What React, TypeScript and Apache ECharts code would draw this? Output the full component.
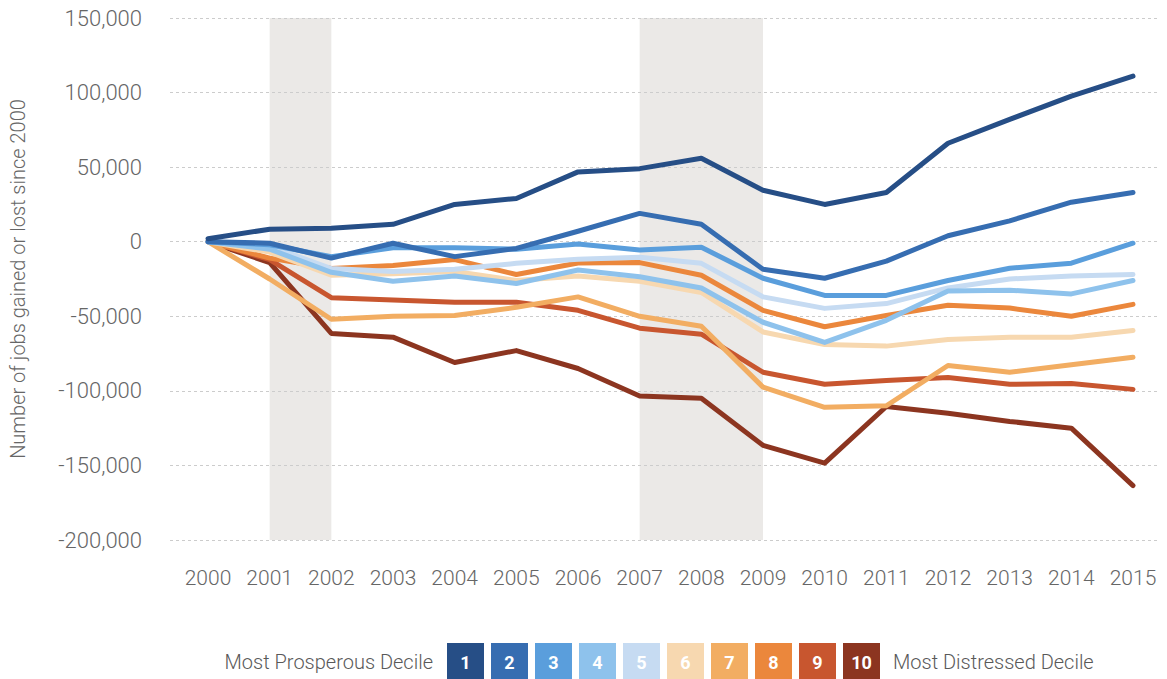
import React, { useEffect, useRef } from "react";
import * as echarts from "echarts";

const years = ["2000","2001","2002","2003","2004","2005","2006","2007","2008","2009","2010","2011","2012","2013","2014","2015"];

const decile1 = [2000, 8400, 9000, 11700, 25000, 29000, 46800, 49000, 56000, 34500, 25000, 33000, 66000, 82000, 97600, 111000];
const decile2 = [0, -1000, -11000, -1000, -10000, -4500, 7000, 19000, 11700, -18500, -24500, -13000, 4000, 14000, 26500, 33000];
const decile3 = [0, -2000, -10000, -4000, -4000, -5000, -1500, -5500, -3700, -24500, -36000, -36000, -26000, -17800, -14400, -1000];
const decile4 = [0, -5000, -20500, -26500, -23000, -28000, -19000, -23500, -31000, -54000, -67500, -52700, -33000, -32500, -35000, -26000];
const decile5 = [0, -3000, -18000, -20000, -18500, -14500, -11700, -10400, -14500, -37000, -44700, -41500, -31000, -25000, -23000, -22000];
const decile6 = [0, -7000, -22500, -21500, -20000, -26000, -23000, -26500, -34000, -60500, -69000, -70000, -65500, -64000, -64000, -59500];
const decile7 = [0, -25000, -52000, -50000, -49500, -44000, -37000, -50000, -56700, -97500, -111000, -110000, -83000, -87500, -82500, -77500];
const decile8 = [0, -11000, -18000, -16000, -12000, -22000, -14300, -14000, -22500, -46000, -57000, -49500, -42600, -44500, -50000, -42000];
const decile9 = [0, -12000, -37500, -39000, -40600, -40600, -46000, -58000, -62000, -87500, -95600, -93000, -91000, -95600, -95000, -99000];
const decile10 = [0, -14000, -61500, -64000, -81000, -73000, -85000, -103500, -105000, -136500, -148500, -110500, -115000, -120500, -125000, -163500];

const deciles = [decile1, decile2, decile3, decile4, decile5, decile6, decile7, decile8, decile9, decile10];
const decileNames = ["1", "2", "3", "4", "5", "6", "7", "8", "9", "10"];
const colors = ["#264e86", "#366db1", "#5a9edc", "#8ec2ec", "#c6dbf2", "#f7d8b0", "#f2ad62", "#eb873c", "#c8562f", "#8c3520"];

const recessions: [string, string][] = [["2001", "2002"], ["2007", "2009"]];

const yMin = -200000;
const yMax = 150000;
const yStep = 50000;

const yTitle = "Number of jobs gained or lost since 2000";
const legendLeftText = "Most Prosperous Decile";
const legendRightText = "Most Distressed Decile";

const FONT = "Roboto, 'Liberation Sans', sans-serif";

export default function App() {
  const ref = useRef<HTMLDivElement>(null);
  useEffect(() => {
    if (!ref.current) return;
    const chart = echarts.init(ref.current, null, { renderer: "svg" });

    const sqW = 37;
    const sqH = 36;
    const sqPitch = 44;
    const sqStart = 447;
    const sqTop = 643;
    const legendElems: any[] = [
      {
        type: "text",
        x: 433,
        y: 662,
        style: {
          text: legendLeftText,
          fill: "#595959",
          font: `300 20px ${FONT}`,
          textAlign: "right",
          textVerticalAlign: "middle",
        },
      },
    ];
    decileNames.forEach((n, i) => {
      legendElems.push({
        type: "rect",
        shape: { x: sqStart + i * sqPitch, y: sqTop, width: sqW, height: sqH },
        style: { fill: colors[i] },
      });
      legendElems.push({
        type: "text",
        x: sqStart + i * sqPitch + sqW / 2,
        y: sqTop + sqH / 2 + 1,
        style: {
          text: n,
          fill: "#ffffff",
          font: `bold 18px ${FONT}`,
          textAlign: "center",
          textVerticalAlign: "middle",
        },
      });
    });
    legendElems.push({
      type: "text",
      x: sqStart + decileNames.length * sqPitch + 6,
      y: 662,
      style: {
        text: legendRightText,
        fill: "#595959",
        font: `300 20px ${FONT}`,
        textAlign: "left",
        textVerticalAlign: "middle",
      },
    });

    const option: any = {
      animation: false,
      backgroundColor: "#ffffff",
      grid: [
        { left: 208, right: 34, top: 18, height: 522 },
        { left: 160, right: 7, top: 18, height: 522 },
      ],
      xAxis: [
        {
          type: "category",
          gridIndex: 0,
          data: years,
          boundaryGap: false,
          axisLine: { show: false },
          axisTick: { show: false },
          splitLine: { show: false },
          axisLabel: {
            color: "#666666",
            fontFamily: FONT,
            fontWeight: 300,
            fontSize: 21,
            margin: 27,
            interval: 0,
          },
        },
        {
          type: "value",
          gridIndex: 1,
          min: 0,
          max: 1,
          show: false,
        },
      ],
      yAxis: [
        {
          type: "value",
          gridIndex: 0,
          min: yMin,
          max: yMax,
          interval: yStep,
          show: false,
          splitLine: { show: false },
        },
        {
          type: "value",
          gridIndex: 1,
          min: yMin,
          max: yMax,
          interval: yStep,
          z: 2,
          axisLine: { show: false },
          axisTick: { show: false },
          axisLabel: {
            color: "#666666",
            fontFamily: FONT,
            fontWeight: 300,
            fontSize: 22,
            margin: 28,
            formatter: (v: number) => v.toLocaleString("en-US"),
          },
          splitLine: {
            show: true,
            lineStyle: { color: "#cccccc", type: [3, 3], width: 1 },
          },
          name: yTitle,
          nameLocation: "middle",
          nameRotate: 90,
          nameGap: 142,
          nameTextStyle: {
            color: "#666666",
            fontFamily: FONT,
            fontWeight: 300,
            fontSize: 20,
          },
        },
      ],
      series: [
        {
          type: "line",
          xAxisIndex: 0,
          yAxisIndex: 0,
          z: 1,
          data: years.map(() => null),
          symbol: "none",
          lineStyle: { width: 0 },
          silent: true,
          markArea: {
            silent: true,
            itemStyle: { color: "#ebe9e7" },
            data: recessions.map(([a, b]) => [{ xAxis: a }, { xAxis: b }]),
          },
        },
        ...deciles
          .map((d, i) => ({
            name: decileNames[i],
            type: "line",
            xAxisIndex: 0,
            yAxisIndex: 0,
            z: 3,
            data: d,
            symbol: "none",
            lineStyle: { color: colors[i], width: 5, cap: "round", join: "round" },
            itemStyle: { color: colors[i] },
          }))
          .reverse(),
      ],
      graphic: legendElems,
    };
    chart.setOption(option);
    return () => chart.dispose();
  }, []);
  return <div ref={ref} style={{ width: 1167, height: 679, position: "absolute", left: 0, top: 0 }} />;
}
